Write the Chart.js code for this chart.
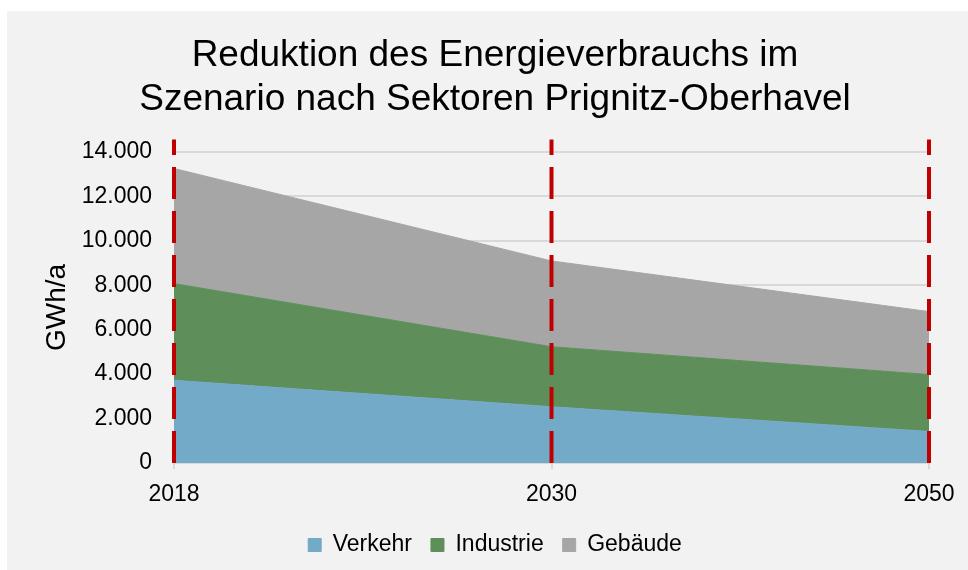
<!DOCTYPE html>
<html>
<head>
<meta charset="utf-8">
<script src="https://cdn.jsdelivr.net/npm/chart.js@4"></script>
<style>
  html, body { margin: 0; padding: 0; background: #ffffff; }
  #wrap {
    position: absolute; left: 7px; top: 11px;
    width: 961px; height: 559px;
    background: #f2f2f2;
  }
  #chart { display: block; }
</style>
</head>
<body>
<div id="wrap"><canvas id="chart" width="961" height="559"></canvas></div>
<script>
// categories and series (GWh/a)
const years = ['2018', '2030', '2050'];
const verkehr   = [3720, 2530, 1420];
const industrie = [4350, 2700, 2560];
const gebaeude  = [5180, 3860, 2830];

// red dashed year markers run a bit above the top tick
const markerTop = 14550;

const yTicks = { min: 0, max: 14000, step: 2000 };

const FONT = '"Liberation Sans", Arial, sans-serif';

function deNumber(v) {
    return String(v).replace(/\B(?=(\d{3})+(?!\d))/g, '.');
}

function area(label, values, color, fill) {
    return {
        label: label,
        data: values,
        backgroundColor: color,
        borderColor: color,
        borderWidth: 1,
        pointRadius: 0,
        pointHoverRadius: 0,
        fill: fill,
        stack: 'sektoren',
        tension: 0
    };
}

function marker(year) {
    return {
        label: 'marker',
        data: [{x: year, y: 0}, {x: year, y: markerTop}],
        yAxisID: 'yr',
        borderColor: '#c00000',
        borderWidth: 4,
        borderDash: [32, 12],
        borderCapStyle: 'butt',
        pointRadius: 0,
        fill: false,
        clip: false,
        order: -1
    };
}

const datasets = [
    area('Verkehr', verkehr, '#72aac8', 'origin'),
    area('Industrie', industrie, '#5e8f5a', '-1'),
    area('Gebäude', gebaeude, '#a6a6a6', '-1'),
    ...years.map(marker)
];

const config = {
    type: 'line',
    data: { labels: years, datasets: datasets },
    options: {
        responsive: false,
        animation: false,
        layout: { padding: { left: 15, right: 0, top: 0, bottom: 3.5 } },
        plugins: {
            title: {
                display: true,
                text: ['Reduktion des Energieverbrauchs im',
                       'Szenario nach Sektoren Prignitz-Oberhavel'],
                color: '#000000',
                font: { family: FONT, size: 37, weight: 'normal', lineHeight: 1.173 },
                padding: { top: 23.5, bottom: 30.5 }
            },
            legend: {
                position: 'bottom',
                labels: {
                    color: '#000000',
                    font: { family: FONT, size: 23 },
                    boxWidth: 13,
                    boxHeight: 13,
                    padding: 19,
                    filter: item => item.text !== 'marker'
                }
            },
            tooltip: { enabled: false }
        },
        scales: {
            x: {
                grid: {
                    display: true,
                    drawOnChartArea: false,
                    drawTicks: true,
                    tickLength: 6,
                    color: '#d9d9d9',
                    lineWidth: 2
                },
                border: { display: true, color: '#d9d9d9', width: 2 },
                ticks: {
                    color: '#000000',
                    font: { family: FONT, size: 23 },
                    padding: 12,
                    maxRotation: 0
                },
                afterFit: scale => {
                    scale.height = 51.5;
                    scale.paddingRight = 39;
                }
            },
            y: {
                stacked: true,
                min: yTicks.min,
                max: yTicks.max,
                grid: { color: '#d9d9d9', lineWidth: 2, drawTicks: false },
                border: { display: false },
                ticks: {
                    stepSize: yTicks.step,
                    color: '#000000',
                    font: { family: FONT, size: 23 },
                    padding: 22,
                    callback: v => deNumber(v)
                },
                title: {
                    display: true,
                    text: 'GWh/a',
                    color: '#000000',
                    font: { family: FONT, size: 28 },
                    padding: { top: 18, bottom: 0 }
                },
                afterFit: scale => { scale.width = 152; }
            },
            yr: {
                display: false,
                stacked: false,
                min: yTicks.min,
                max: yTicks.max
            }
        }
    }
};

new Chart(document.getElementById('chart').getContext('2d'), config);
</script>
</body>
</html>
